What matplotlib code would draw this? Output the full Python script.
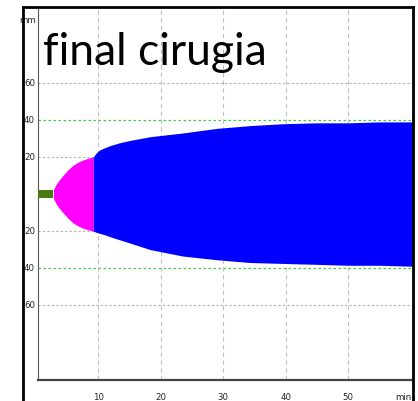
import matplotlib
matplotlib.use("Agg")
import matplotlib.pyplot as plt
from matplotlib.lines import Line2D

# Data (minutes, mm)
baseline_t = [0.3, 2.8]
baseline_half = 2.2

pink_t = [2.8, 3.2, 3.6, 4.4, 5.2, 6.0, 6.8, 7.6, 8.4, 9.2]
pink_up = [2.2, 5.0, 7.0, 10.3, 13.3, 15.7, 17.3, 18.5, 19.4, 20.0]
pink_lo = [2.2, 5.0, 7.0, 10.3, 13.3, 15.7, 17.3, 18.5, 19.4, 20.0]

blue_t = [9.2, 9.6, 10.2, 11.0, 12.0, 13.5, 15.1, 18.3, 23.5, 29.0, 34.3, 39.5, 45.0, 50.0, 55.0, 60.4]
blue_up = [20.0, 22.0, 23.8, 25.0, 26.3, 27.8, 29.0, 31.0, 33.0, 35.5, 37.0, 38.0, 38.5, 38.5, 39.0, 39.0]
blue_lo = [20.0, 20.6, 21.2, 22.0, 23.2, 24.8, 26.5, 30.0, 33.5, 35.5, 37.0, 37.5, 38.0, 38.5, 38.5, 39.0]

x_ticks = [10, 20, 30, 40, 50]
x_labels = ["10", "20", "30", "40", "50"]
y_ticks = [60, 40, 20, -20, -40, -60]
y_labels = ["60", "40", "20", "20", "40", "60"]
gray_grid_y = [20, -20, 60, -60]
green_grid_y = [40, -40]
title = "final cirugia"

W, H = 418, 401
fig = plt.figure(figsize=(W / 100, H / 100), dpi=100)
fig.patch.set_facecolor("white")

L, R, T, B = 38, 413, 7, 380
ax = fig.add_axes([L / W, 1 - B / H, (R - L) / W, (B - T) / H])
ax.set_xlim(0.34, 60.4)
ax.set_ylim(-100.5, 101.1)

for y in gray_grid_y:
    ax.axhline(y, color="#b0b0b0", lw=0.8, ls=(0, (2, 2)), zorder=1)
for y in green_grid_y:
    ax.axhline(y, color="#44cc44", lw=0.9, ls=(0, (2, 2)), zorder=1)
for x in x_ticks:
    ax.axvline(x, color="#c0c0c0", lw=0.8, ls=(0, (4, 3)), zorder=1)

ax.fill_between(baseline_t, [-baseline_half] * 2, [baseline_half] * 2,
                color="#4a7a10", lw=0, zorder=3)
ax.fill_between(pink_t, [-v for v in pink_lo], pink_up, color="#ff00ff", lw=0, zorder=3)
ax.fill_between(blue_t, [-v for v in blue_lo], blue_up, color="#0000ff", lw=0, zorder=3)

ax.set_xticks([])
ax.set_yticks([])
for s in ["top", "right"]:
    ax.spines[s].set_visible(False)
ax.spines["left"].set_color("#555555")
ax.spines["left"].set_linewidth(0.8)
ax.spines["bottom"].set_color("#444444")
ax.spines["bottom"].set_linewidth(1.6)

# tick labels
lab_kw = dict(fontsize=6.2, color="#222222", family=["Liberation Sans Narrow", "DejaVu Sans"])
ytr = ax.get_yaxis_transform()
for y, lab in zip(y_ticks, y_labels):
    ax.annotate(lab, xy=(0, y), xycoords=ytr, xytext=(-2.2, 0), textcoords="offset points",
                ha="right", va="center", **lab_kw)
ax.annotate("mm", xy=(0, 94), xycoords=ytr, xytext=(-1.2, 0), textcoords="offset points",
            ha="right", va="center", **lab_kw)
for x, lab in zip(x_ticks, x_labels):
    ax.text(x, -0.047, lab, transform=ax.get_xaxis_transform(), ha="center", va="center",
            **lab_kw)
ax.text(58.8, -0.047, "min", transform=ax.get_xaxis_transform(), ha="center", va="center",
        **lab_kw)

# title
ax.text(1.2, 69.7, title, ha="left", va="baseline", fontsize=32, family="Lato",
        color="black", zorder=5)

# outer black frame
frame_kw = dict(color="black", lw=2.0, transform=fig.transFigure, solid_capstyle="projecting")
fig.add_artist(Line2D([22.5 / W, 22.5 / W], [0, 1 - 7 / H], **frame_kw))
fig.add_artist(Line2D([22.5 / W, 413 / W], [1 - 7 / H, 1 - 7 / H], **frame_kw))
fig.add_artist(Line2D([413 / W, 413 / W], [0, 1 - 7 / H], **frame_kw))

fig.savefig("out.png", dpi=100, facecolor="white")
